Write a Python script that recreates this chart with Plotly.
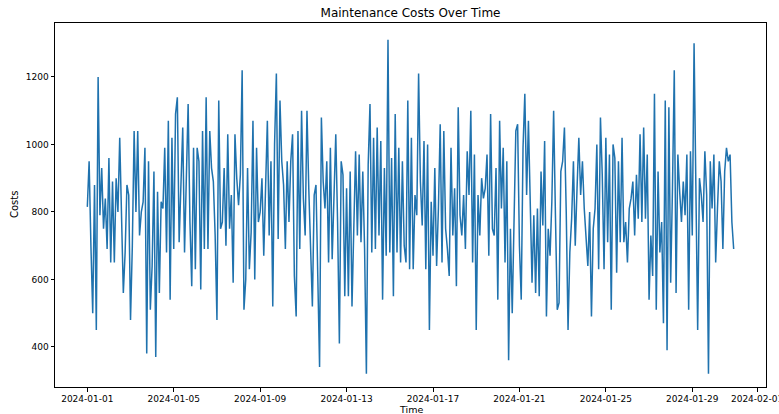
import pandas as pd
import plotly.graph_objects as go

# Maintenance costs, recorded every 2 hours starting 2024-01-01 00:00
start = "2024-01-01"
freq = "2h"
costs = [
    # Jan 01 - Jan 04
    815, 950, 700, 500, 880, 450, 1200, 790, 930, 750, 840, 690, 960, 650, 890, 650,
    900, 800, 1020, 800, 560, 680, 880, 850, 480, 700, 1040, 800, 1040, 730, 800, 830,
    990, 380, 950, 510, 640, 920, 370, 860, 560, 830, 810, 990,
    # Jan 04 - Jan 08
    680, 1070, 540, 1020, 690, 1090, 1140, 710, 880, 1050, 680, 920, 1120, 770, 580, 990,
    630, 990, 950, 570, 1040, 690, 1140, 690, 1040, 930, 890, 730, 480, 1130, 750, 770,
    930, 700, 1030, 750, 850, 590, 1030, 900, 820, 910, 1220, 510,
    # Jan 08 - Jan 12
    600, 930, 630, 740, 1070, 600, 990, 770, 800, 900, 670, 870, 1070, 730, 950, 520,
    1000, 1210, 720, 1130, 950, 880, 690, 950, 770, 950, 1030, 610, 490, 1040, 690, 1100,
    840, 730, 1100, 870, 650, 520, 850, 880, 610, 340, 1080, 890, 810,
    # Jan 12 - Jan 15
    950, 650, 990, 660, 880, 1030, 770, 410, 950, 910, 550, 870, 550, 920, 520, 810,
    980, 730, 970, 710, 920, 690, 320, 940, 1120, 680, 1020, 690, 1050, 730, 1010, 540,
    930, 670, 1310, 680, 960, 550, 1090, 680, 990, 650, 950, 700,
    # Jan 15 - Jan 19
    650, 1130, 630, 1020, 630, 850, 790, 1210, 890, 760, 1010, 630, 1000, 450, 830, 670,
    930, 640, 810, 1060, 650, 1040, 750, 690, 610, 990, 730, 870, 580, 1110, 790, 730,
    850, 690, 980, 850, 1100, 650, 970, 450, 850, 730, 900, 840, 870,
    # Jan 19 - Jan 23
    970, 670, 1090, 750, 730, 930, 540, 1070, 810, 990, 650, 950, 360, 750, 500, 810,
    1040, 1060, 700, 540, 990, 1150, 850, 1070, 820, 590, 790, 560, 810, 550, 920, 760,
    1010, 490, 750, 670, 830, 1100, 790, 510, 530, 920, 950, 1050,
    # Jan 23 - Jan 26
    800, 450, 680, 780, 950, 700, 870, 1020, 850, 950, 810, 730, 640, 800, 490, 750,
    810, 1000, 630, 1080, 910, 630, 1020, 710, 970, 510, 1000, 960, 620, 950, 710, 1020,
    710, 770, 650, 810, 840, 890, 730, 910, 780, 1030, 770, 1050, 780,
    # Jan 26 - Jan 30
    970, 540, 730, 610, 1150, 510, 920, 680, 770, 470, 1130, 390, 1110, 590, 870, 1220,
    560, 970, 860, 770, 890, 790, 970, 510, 980, 730, 1300, 800, 450, 900, 850, 770,
    980, 850, 320, 950, 810, 970, 650, 810, 950, 890, 690, 920, 990, 950, 970, 770, 690,
]

tick_dates = ["2024-01-01", "2024-01-05", "2024-01-09", "2024-01-13", "2024-01-17",
              "2024-01-21", "2024-01-25", "2024-01-29", "2024-02-01"]
y_ticks = [400, 600, 800, 1000, 1200]

times = pd.date_range(start, periods=len(costs), freq=freq)

font = "DejaVu Sans"

fig = go.Figure()
fig.add_trace(go.Scatter(
    x=times, y=costs, mode="lines",
    line=dict(color="#1f72ae", width=1.5),
    showlegend=False,
))

# pad the time axis by 5% of the data span on each side
span = times[-1] - times[0]
x_lo = times[0] - span * 0.05
x_hi = times[-1] + span * 0.05

axis_common = dict(
    showline=True, mirror=True, linecolor="black", linewidth=1,
    ticks="outside", ticklen=3.5, tickwidth=1, tickcolor="black",
    showgrid=False, zeroline=False, automargin=False,
    tickfont=dict(family=font, size=9, color="black"),
)

fig.update_xaxes(
    range=[x_lo, x_hi],
    tickvals=pd.to_datetime(tick_dates), ticktext=tick_dates,
    ticklabeloverflow="allow",
    **axis_common,
)
fig.update_yaxes(
    range=[281, 1360],
    tickvals=y_ticks, ticktext=[str(v) for v in y_ticks],
    **axis_common,
)

fig.update_layout(
    width=779, height=414,
    margin=dict(l=55, r=13, t=23, b=27, autoexpand=False),
    paper_bgcolor="white", plot_bgcolor="white",
    font=dict(family=font, color="black"),
    title=dict(text="Maintenance Costs Over Time", x=0.527, xanchor="center",
               y=1 - 13 / 414, yanchor="middle", yref="container",
               font=dict(family=font, size=12, color="black")),
    annotations=[
        dict(text="Time", xref="paper", yref="paper", x=0.5, y=0,
             xanchor="center", yanchor="middle", yshift=-22, showarrow=False,
             font=dict(family=font, size=9.5, color="black")),
        dict(text="Costs", xref="paper", yref="paper", x=0, y=0.5,
             xanchor="center", yanchor="middle", xshift=-41, textangle=-90,
             showarrow=False, font=dict(family=font, size=10, color="black")),
    ],
)

fig.write_html("out.html")
